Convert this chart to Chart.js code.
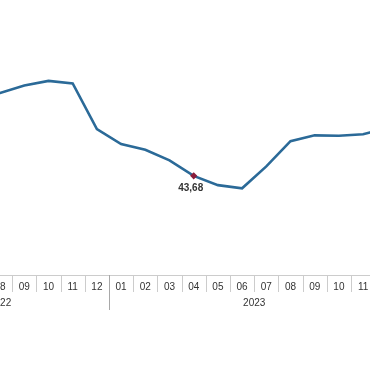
<!DOCTYPE html>
<html>
<head>
<meta charset="utf-8">
<script src="https://cdn.jsdelivr.net/npm/chart.js@4.4.0/dist/chart.umd.min.js"></script>
<style>
  html, body { margin: 0; padding: 0; background: #fff; overflow: hidden; width: 370px; height: 375px; }
  #wrap { position: relative; width: 370px; height: 375px; overflow: hidden; }
  #c { position: absolute; left: -120px; top: 0; }
</style>
</head>
<body>
<div id="wrap"><canvas id="c" width="530" height="375"></canvas></div>
<script>
// Months (tick labels), the year each month belongs to, and annual inflation values (%)
const months = ['04','05','06','07','08','09','10','11','12','01','02','03','04','05','06','07','08','09','10','11','12'];
const years  = ['2022','2022','2022','2022','2022','2022','2022','2022','2022','2023','2023','2023','2023','2023','2023','2023','2023','2023','2023','2023','2023'];
const values = [69.97, 73.50, 78.62, 79.60, 80.21, 83.45, 85.51, 84.39, 64.27, 57.68, 55.18, 50.51, 43.68, 39.59, 38.21, 47.83, 58.94, 61.53, 61.36, 61.98, 64.77];
const highlightIndex = 12; // 2023-04
const highlightLabel = '43,68';

const FONT = '"Liberation Sans", Arial, sans-serif';

const axisDecor = {
  id: 'axisDecor',
  afterDraw(chart) {
    const ctx = chart.ctx;
    const x = chart.scales.x;
    const ca = chart.chartArea;
    const bottom = ca.bottom;
    const n = months.length;
    const step = x.getPixelForValue(1) - x.getPixelForValue(0);
    ctx.save();
    // axis baseline
    ctx.strokeStyle = '#cccccc';
    ctx.lineWidth = 1;
    ctx.beginPath();
    ctx.moveTo(ca.left, Math.round(bottom) + 0.5);
    ctx.lineTo(ca.right, Math.round(bottom) + 0.5);
    ctx.stroke();
    // month separators and year separators
    for (let i = 0; i <= n; i++) {
      const px = Math.round(x.getPixelForValue(i) - step / 2) + 0.5;
      const yearBreak = i > 0 && i < n && years[i] !== years[i - 1];
      ctx.strokeStyle = yearBreak ? '#a8a8a8' : '#cccccc';
      ctx.beginPath();
      ctx.moveTo(px, bottom);
      ctx.lineTo(px, bottom + (yearBreak ? 35 : 17));
      ctx.stroke();
    }
    // year labels centred over their months
    ctx.fillStyle = '#333333';
    ctx.font = '10px ' + FONT;
    ctx.textAlign = 'center';
    ctx.textBaseline = 'middle';
    let start = 0;
    for (let i = 1; i <= n; i++) {
      if (i === n || years[i] !== years[start]) {
        const cx = (x.getPixelForValue(start) + x.getPixelForValue(i - 1)) / 2;
        ctx.fillText(years[start], cx, bottom + 28);
        start = i;
      }
    }
    // highlighted value label
    const pt = chart.getDatasetMeta(0).data[highlightIndex];
    ctx.font = 'bold 10px ' + FONT;
    ctx.fillText(highlightLabel, pt.x - 3, pt.y + 12);
    ctx.restore();
  }
};

new Chart(document.getElementById('c'), {
  type: 'line',
  data: {
    labels: months,
    datasets: [{
      data: values,
      borderColor: '#2b6a98',
      borderWidth: 2.6,
      tension: 0,
      fill: false,
      pointStyle: 'rectRot',
      pointRadius: ctx => ctx.dataIndex === highlightIndex ? 3.6 : 0,
      pointHoverRadius: 0,
      pointBackgroundColor: '#8a1d3c',
      pointBorderColor: '#8a1d3c',
      pointBorderWidth: 0
    }]
  },
  options: {
    responsive: false,
    animation: false,
    devicePixelRatio: 1,
    layout: { padding: { left: 11.2, right: 10.6, top: 48, bottom: 0 } },
    plugins: { legend: { display: false }, tooltip: { enabled: false } },
    scales: {
      x: {
        offset: true,
        grid: { display: false, drawTicks: false },
        border: { display: false },
        ticks: {
          autoSkip: false,
          maxRotation: 0,
          padding: 6,
          color: '#333333',
          font: { family: FONT, size: 10 }
        },
        afterFit: s => { s.height = 100; }
      },
      y: {
        display: false,
        min: 0,
        max: 100
      }
    }
  },
  plugins: [axisDecor]
});
</script>
</body>
</html>
